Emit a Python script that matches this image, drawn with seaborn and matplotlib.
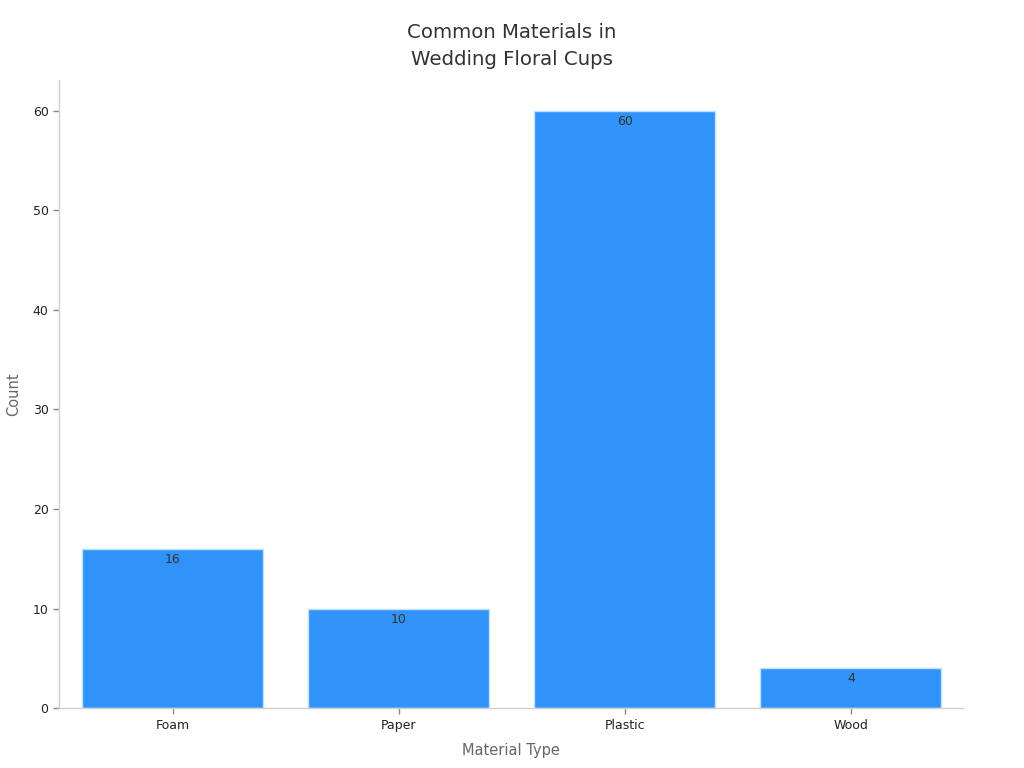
import matplotlib
matplotlib.use("Agg")
import matplotlib.pyplot as plt
import seaborn as sns
import pandas as pd

materials = ["Foam", "Paper", "Plastic", "Wood"]
counts = [16, 10, 60, 4]

sns.set_theme(style="white")
plt.rcParams['font.family'] = ['DejaVu Sans']

df = pd.DataFrame({"Material Type": materials, "Count": counts})

fig = plt.figure(figsize=(10.24, 7.68), dpi=100)
ax = fig.add_axes([0.0576, 0.078, 0.8828, 0.818])

sns.barplot(data=df, x="Material Type", y="Count", color="#2F93F9", saturation=1,
            edgecolor="#BFE0FF", linewidth=1, width=0.8, ax=ax)

for p, v in zip(ax.patches, counts):
    ax.text(p.get_x() + p.get_width() / 2, v - 0.4, f"{v}", ha="center", va="top",
            fontsize=9, color="#333333")

ax.set_ylim(0, 63.1)
ax.set_xlim(-0.504, 3.496)
ax.set_yticks([0, 10, 20, 30, 40, 50, 60])
ax.tick_params(axis="both", labelsize=9, colors="#222222", length=4, width=1, direction="out")
ax.tick_params(axis="both", color="#888888")
ax.xaxis.set_tick_params(bottom=True)
ax.yaxis.set_tick_params(left=True)

for s in ["top", "right"]:
    ax.spines[s].set_visible(False)
for s in ["left", "bottom"]:
    ax.spines[s].set_color("#D0D0D0")
    ax.spines[s].set_linewidth(1)

ax.set_xlabel("Material Type", fontsize=10.5, color="#666666", labelpad=8)
ax.set_ylabel("Count", fontsize=10.5, color="#666666", labelpad=8)
fig.text(0.5, 0.94, "Common Materials in\nWedding Floral Cups", fontsize=14.2, color="#333333",
         ha="center", va="center", linespacing=1.55)

fig.savefig("out.png", dpi=100)
